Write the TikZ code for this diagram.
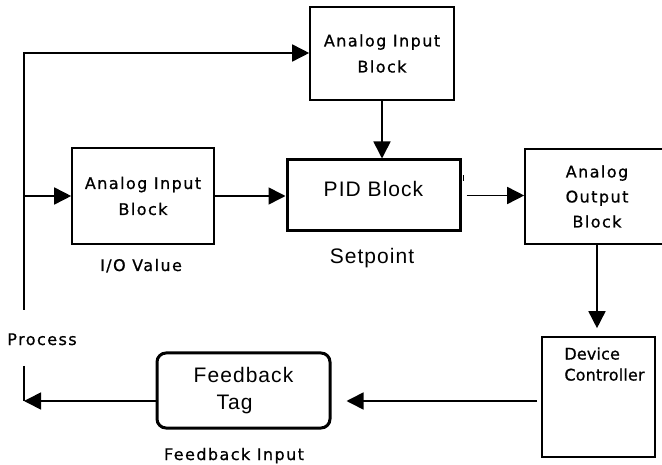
\documentclass[tikz,border=0pt]{standalone}
\usepackage{fontspec}
\setmainfont{Liberation Sans}
\newfontfamily\lblfont{DejaVu Sans}[LetterSpace=9, FakeBold=0.8]
\newfontfamily\devfont{DejaVu Sans}[LetterSpace=1, FakeBold=0.8]
\newfontfamily\bigfont{Liberation Sans}[LetterSpace=5]
\usetikzlibrary{arrows.meta}

\begin{document}
\begin{tikzpicture}[x=1pt,y=-1pt,
  wire/.style={line width=1.6pt, draw=black},
  arr/.style={-{Triangle[length=17pt,width=17pt]}},
  block/.style={draw=black, line width=1.6pt, inner sep=0pt, align=center,
    font={\lblfont\fontsize{16}{26}\selectfont}},
  heavyblock/.style={draw=black, line width=3pt, inner sep=0pt, align=center,
    font={\bigfont\fontsize{21}{27}\selectfont}},
  lbl/.style={inner sep=0pt, anchor=base, font={\lblfont\fontsize{16}{21}\selectfont}},
  biglbl/.style={inner sep=0pt, anchor=base, font={\bigfont\fontsize{21}{27}\selectfont}}]

\useasboundingbox (0,0) rectangle (662,465);
\clip (0,0) rectangle (662,465);

% blocks
\node[block, minimum width=144pt, minimum height=93pt] (aiTop) at (382,53.5) {Analog Input\\Block};
\node[block, minimum width=142pt, minimum height=96pt] (aiLeft) at (143,196) {Analog Input\\Block};
\node[heavyblock, minimum width=173pt, minimum height=71pt, text depth=13pt] (pid) at (373.5,195.5) {PID Block};
\node[block, minimum width=144pt, minimum height=95pt, font={\lblfont\fontsize{16}{25}\selectfont}] (aoBlock) at (597,196.5) {Analog\\Output\\Block};
\node[block, minimum width=113pt, minimum height=120pt] (devCtrl) at (598.5,397) {};
\node[lbl, anchor=north west, align=left, font={\devfont\fontsize{16}{21}\selectfont}] (devText)
  at ([shift={(23,11)}]devCtrl.north west) {Device\\Controller};
\node[heavyblock, rounded corners=9pt, minimum width=173pt, minimum height=75pt] (fbTag) at (243.5,390.5) {Feedback\\Tag\hspace*{18pt}};

% captions
\node[lbl] (ioLabel) at (141,271) {I/O Value};
\node[biglbl] (spLabel) at (372,264) {Setpoint};
\node[lbl] (procLabel) at (42,345) {Process};
\node[lbl] (fbLabel) at (234,460) {Feedback Input};

% loop path points
\coordinate (loopTop) at (24,53);
\coordinate (procUp) at (24,310);
\coordinate (procDown) at (24,366);
\coordinate (loopEnd) at (24,401);

% connectors
\draw[wire, arr] (procUp) -- (loopTop) -- (loopTop -| aiTop.west);
\draw[wire, arr] (loopTop |- aiLeft.west) -- (aiLeft.west);
\draw[wire, arr] (aiTop.south) -- (aiTop.south |- pid.north);
\draw[wire, arr] (aiLeft.east) -- (aiLeft.east -| pid.west);
\draw[wire, arr, shorten <=5pt] (pid.east) -- (pid.east -| aoBlock.west);
\draw[wire, arr, shorten >=8pt] (aoBlock.south) -- (aoBlock.south |- devCtrl.north);
\draw[wire, arr, shorten <=4pt, shorten >=15pt] (loopEnd -| devCtrl.west) -- (loopEnd -| fbTag.east);
\draw[wire, arr] (loopEnd -| fbTag.west) -- (loopEnd);
\draw[wire] (procDown) -- (loopEnd);
\draw[line width=1.5pt] ([shift={(2,17)}]pid.north east) -- ++(0,6);
\end{tikzpicture}
\end{document}
